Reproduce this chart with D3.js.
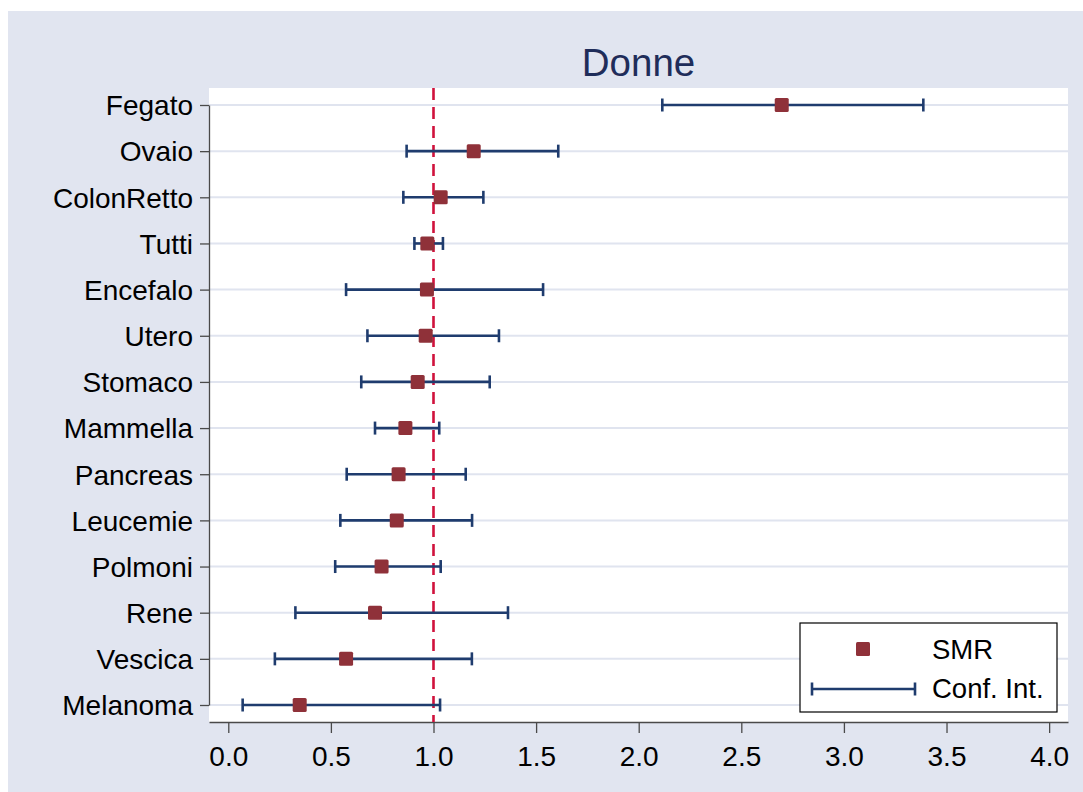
<!DOCTYPE html>
<html>
<head>
<meta charset="utf-8">
<script src="https://cdn.jsdelivr.net/npm/d3@7"></script>
<style>
  html, body { margin: 0; padding: 0; background: #fff; }
  svg { display: block; font-family: "Liberation Sans", Arial, sans-serif; }
</style>
</head>
<body>
<svg width="1083" height="792"></svg>
<script>
var categories = ["Fegato", "Ovaio", "ColonRetto", "Tutti", "Encefalo", "Utero", "Stomaco",
                  "Mammella", "Pancreas", "Leucemie", "Polmoni", "Rene", "Vescica", "Melanoma"];
var smr   = [2.697, 1.196, 1.035, 0.970, 0.968, 0.962, 0.923, 0.863, 0.830, 0.821, 0.747, 0.715, 0.574, 0.348];
var ciLow = [2.115, 0.869, 0.853, 0.907, 0.574, 0.678, 0.648, 0.715, 0.577, 0.546, 0.521, 0.327, 0.227, 0.070];
var ciHigh= [3.387, 1.608, 1.243, 1.046, 1.534, 1.319, 1.274, 1.028, 1.157, 1.188, 1.035, 1.363, 1.187, 1.032];
var xTicks = [0, 0.5, 1, 1.5, 2, 2.5, 3, 3.5, 4];
var refValue = 1;
var title = "Donne";

var svg = d3.select("svg");
var margin = {left: 209, top: 88, right: 15, bottom: 70};
var width = 1083 - margin.left - margin.right;
var height = 792 - margin.top - margin.bottom;

var rows = categories.map(function(c, i) {
  return {cat: c, smr: smr[i], lo: ciLow[i], hi: ciHigh[i]};
});

// background
svg.append("rect").attr("x", 8).attr("y", 11).attr("width", 1075).attr("height", 781)
  .attr("fill", "#e1e5f0");

var g = svg.append("g").attr("transform", "translate(" + margin.left + "," + margin.top + ")");
g.append("rect").attr("width", width).attr("height", height).attr("fill", "#fff");

var x = d3.scaleLinear().domain([-0.094, 4.092]).range([0, width]);
var y = d3.scalePoint().domain(categories).range([17, height - 17]);

// gridlines
g.selectAll(".grid").data(categories).enter().append("line")
  .attr("x1", 0).attr("x2", width)
  .attr("y1", function(d) { return y(d); }).attr("y2", function(d) { return y(d); })
  .attr("stroke", "#e0e4ef").attr("stroke-width", 2);

// axes
var xAxis = g.append("g").attr("transform", "translate(0," + height + ")")
  .call(d3.axisBottom(x).tickValues(xTicks).tickFormat(d3.format(".1f"))
    .tickSize(11).tickSizeOuter(0).tickPadding(13));
var yAxis = g.append("g")
  .call(d3.axisLeft(y).tickSize(9).tickSizeOuter(0).tickPadding(7));

[xAxis, yAxis].forEach(function(a) {
  a.selectAll("path, line").attr("stroke", "#4a4a4a").attr("stroke-width", 1.3);
  a.selectAll("text").attr("font-size", 28).attr("fill", "#000")
    .attr("font-family", "'Liberation Sans', Arial, sans-serif");
});
yAxis.selectAll("text").attr("dy", "0.35em");

// reference line
g.append("line")
  .attr("x1", x(refValue)).attr("x2", x(refValue))
  .attr("y1", 0).attr("y2", height)
  .attr("stroke", "#d0123c").attr("stroke-width", 2.6)
  .attr("stroke-dasharray", "12,7");

// confidence intervals
var ci = g.selectAll(".ci").data(rows).enter().append("g");
ci.append("line")
  .attr("x1", function(d) { return x(d.lo); }).attr("x2", function(d) { return x(d.hi); })
  .attr("y1", function(d) { return y(d.cat); }).attr("y2", function(d) { return y(d.cat); });
ci.append("line")
  .attr("x1", function(d) { return x(d.lo); }).attr("x2", function(d) { return x(d.lo); })
  .attr("y1", function(d) { return y(d.cat) - 6.5; }).attr("y2", function(d) { return y(d.cat) + 6.5; });
ci.append("line")
  .attr("x1", function(d) { return x(d.hi); }).attr("x2", function(d) { return x(d.hi); })
  .attr("y1", function(d) { return y(d.cat) - 6.5; }).attr("y2", function(d) { return y(d.cat) + 6.5; });
ci.selectAll("line").attr("stroke", "#1f3c6e").attr("stroke-width", 2.6);

// SMR markers
var ms = 14;
g.selectAll(".pt").data(rows).enter().append("rect")
  .attr("x", function(d) { return x(d.smr) - ms / 2; })
  .attr("y", function(d) { return y(d.cat) - ms / 2; })
  .attr("width", ms).attr("height", ms).attr("rx", 1.5)
  .attr("fill", "#8f3139");

// title
svg.append("text").attr("x", margin.left + width / 2).attr("y", 76)
  .attr("text-anchor", "middle").attr("font-size", 38.5).attr("fill", "#1f2d5a")
  .text(title);

// legend
var leg = svg.append("g").attr("transform", "translate(800,623)");
leg.append("rect").attr("width", 257).attr("height", 89)
  .attr("fill", "#fff").attr("stroke", "#000").attr("stroke-width", 1.2);
leg.append("rect").attr("x", 63 - ms / 2).attr("y", 26 - ms / 2)
  .attr("width", ms).attr("height", ms).attr("rx", 1.5).attr("fill", "#8f3139");
var lc = leg.append("g").attr("stroke", "#1f3c6e").attr("stroke-width", 2.6);
lc.append("line").attr("x1", 12).attr("x2", 115).attr("y1", 66).attr("y2", 66);
lc.append("line").attr("x1", 12).attr("x2", 12).attr("y1", 59.5).attr("y2", 72.5);
lc.append("line").attr("x1", 115).attr("x2", 115).attr("y1", 59.5).attr("y2", 72.5);
leg.append("text").attr("x", 132).attr("y", 36).attr("font-size", 27.5).text("SMR");
leg.append("text").attr("x", 132).attr("y", 75).attr("font-size", 27.5).text("Conf. Int.");
</script>
</body>
</html>
